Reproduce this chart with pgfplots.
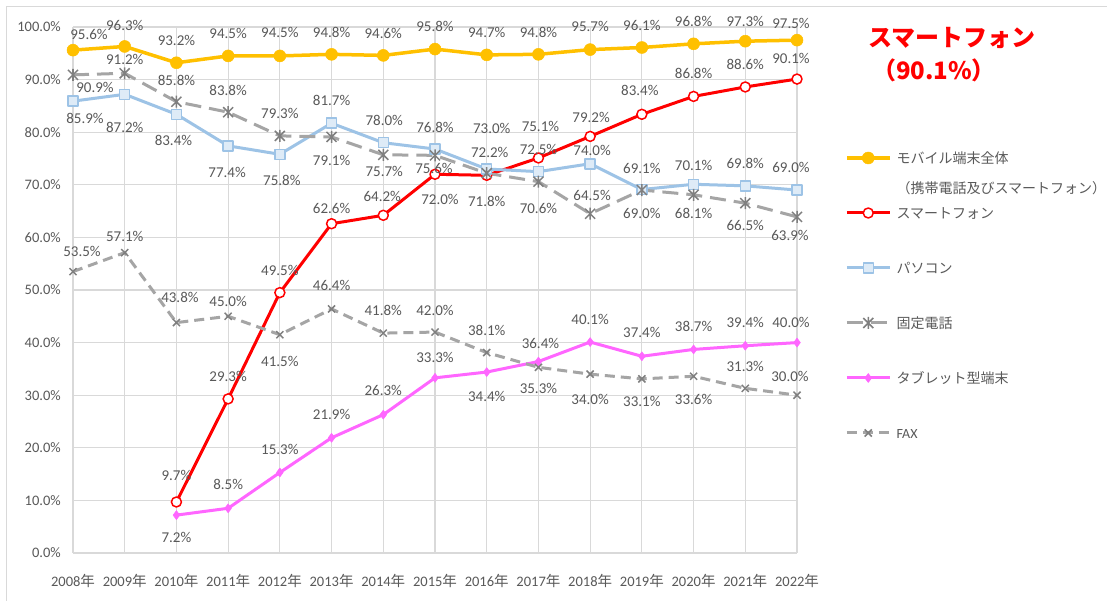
\documentclass[border=0pt]{standalone}
\usepackage{fontspec}
\setmainfont{Carlito}
\newfontfamily\cjk{Noto Sans CJK JP}
\usepackage{pgfplots}
\pgfplotsset{compat=1.18}
\definecolor{mob}{HTML}{FFC000}
\definecolor{smp}{HTML}{FF0000}
\definecolor{pcl}{HTML}{9DC3E6}
\definecolor{pcf}{HTML}{DEEBF7}
\definecolor{tel}{HTML}{A5A5A5}
\definecolor{telm}{HTML}{7F7F7F}
\definecolor{tab}{HTML}{FF66FF}
\definecolor{gridc}{HTML}{D9D9D9}
\definecolor{txt}{HTML}{595959}
\pgfdeclareplotmark{xstar}{%
  \pgfpathmoveto{\pgfqpoint{-\pgfplotmarksize}{-\pgfplotmarksize}}%
  \pgfpathlineto{\pgfqpoint{\pgfplotmarksize}{\pgfplotmarksize}}%
  \pgfpathmoveto{\pgfqpoint{-\pgfplotmarksize}{\pgfplotmarksize}}%
  \pgfpathlineto{\pgfqpoint{\pgfplotmarksize}{-\pgfplotmarksize}}%
  \pgfpathmoveto{\pgfqpoint{0pt}{-1.2\pgfplotmarksize}}%
  \pgfpathlineto{\pgfqpoint{0pt}{1.2\pgfplotmarksize}}%
  \pgfusepathqstroke}
\begin{document}
\begin{tikzpicture}
\useasboundingbox (0pt,0pt) rectangle (1107pt,601pt);
\fill[white] (0pt,0pt) rectangle (1107pt,601pt);
\draw[gridc, line width=1pt] (6pt,0pt) -- (6pt,594pt) -- (1107pt,594pt);
\begin{axis}[
  scale only axis, width=724pt, height=526pt,
  at={(73pt,48pt)}, anchor=south west,
  xmin=0, xmax=14, ymin=0, ymax=100,
  xtick={0,...,14},
  xticklabels={2008{\cjk 年},2009{\cjk 年},2010{\cjk 年},2011{\cjk 年},2012{\cjk 年},2013{\cjk 年},2014{\cjk 年},2015{\cjk 年},2016{\cjk 年},2017{\cjk 年},2018{\cjk 年},2019{\cjk 年},2020{\cjk 年},2021{\cjk 年},2022{\cjk 年}},
  ytick={0,10,...,100},
  yticklabels={0.0\%,10.0\%,20.0\%,30.0\%,40.0\%,50.0\%,60.0\%,70.0\%,80.0\%,90.0\%,100.0\%},
  grid=major, major grid style={draw=gridc, line width=1.2pt},
  axis line style={draw=none}, major tick length=0pt,
  tick label style={font=\fontsize{14.5}{16}\selectfont, text=txt, inner sep=0pt},
  yticklabel style={anchor=east, xshift=-12pt},
  xticklabel style={anchor=center, yshift=-28pt},
  /pgf/number format/assume math mode=true,
  clip=false,
  visualization depends on={value \thisrow{dx}\as\ldx},
  visualization depends on={value \thisrow{dy}\as\ldy},
  nodes near coords={\pgfmathprintnumber[fixed,fixed zerofill,precision=1]{\pgfplotspointmeta}\%},
  every node near coord/.style={anchor=center, xshift=\ldx pt, yshift=\ldy pt, font=\fontsize{15}{17}\selectfont, text=txt, inner sep=0pt},
  line join=round,
  legend image code/.code={\draw[mark repeat=2,mark phase=2,#1] plot coordinates {(0pt,5.5pt) (21.5pt,5.5pt) (43pt,5.5pt)};},
  legend style={at={(1.0663,0.7633)}, anchor=north west, draw=none, fill=none,
    inner sep=0pt, outer sep=0pt, column sep=5pt, row sep=0pt,
    font=\cjk\fontsize{14}{17}\selectfont, text=txt,
    cells={anchor=base west},
    nodes={inner sep=0pt, text height=12pt, text depth=43pt}},
]
\addplot[color=mob, line width=3.5pt, mark=*, mark size=6pt, mark options={solid, fill=mob, draw=mob, line width=0.5pt}] table {
x y dx dy
0 95.6 16 16
1 96.3 0 21.5
2 93.2 0 22
3 94.5 0 22.6
4 94.5 0 23
5 94.8 0 21.7
6 94.6 0 22
7 95.8 0 23
8 94.7 0 22
9 94.8 0 22
10 95.7 0 23
11 96.1 0 22.5
12 96.8 0 22
13 97.3 0 20
14 97.5 -6 17
};
\addlegendentry{\begin{tabular}[t]{@{}l@{}}モバイル端末全体\\[13pt]（携帯電話及びスマートフォン）\end{tabular}}
\addplot[color=smp, line width=3pt, mark=*, mark size=5pt, mark options={solid, fill=white, draw=smp, line width=1.5pt}] table {
x y dx dy
2 9.7 0 27
3 29.3 0 22
4 49.5 0 22.6
5 62.6 0 15
6 64.2 -1 18.6
7 72.0 5 -25
8 71.8 0 -26
9 75.1 2 32
10 79.2 1 19
11 83.4 -2 23.6
12 86.8 0 23
13 88.6 0 22.6
14 90.1 -6 21
};
\addlegendentry{スマートフォン}
\addplot[color=pcl, line width=3pt, mark=square*, mark size=5pt, mark options={solid, fill=pcf, draw=pcl, line width=1.5pt}] table {
x y dx dy
0 85.9 12 -17
1 87.2 0 -33
2 83.4 -3 -26
3 77.4 -1 -27
4 75.8 2 -26
5 81.7 0 23
6 78.0 1 22.7
7 76.8 0 22
8 73.0 5 40.7
9 72.5 0 22.4
10 74.0 2 13
11 69.1 0 21
12 70.1 0 18.6
13 69.8 0 22.6
14 69.0 -6 22.8
};
\addlegendentry{パソコン}
\addplot[color=tel, line width=3pt, dash pattern=on 16pt off 8pt, mark=xstar, mark size=5pt, mark options={solid, draw=telm, line width=1.5pt}] table {
x y dx dy
0 90.9 22 -12.8
1 91.2 0 14
2 85.8 0 21.7
3 83.8 0 22
4 79.3 0 22
5 79.1 0 -23.8
6 75.7 1 -17
7 75.6 -1 -13
8 72.2 3 20.5
9 70.6 0 -26.7
10 64.5 2 18.7
11 69.0 0 -23
12 68.1 0 -18.5
13 66.5 0 -22.5
14 63.9 -7 -19
};
\addlegendentry{固定電話}
\addplot[color=tab, line width=3pt, mark=diamond*, mark size=4.5pt, mark options={solid, fill=tab, draw=tab, line width=0.5pt}] table {
x y dx dy
2 7.2 0 -22
3 8.5 0 24
4 15.3 0 23.5
5 21.9 0 23.8
6 26.3 0 24
7 33.3 0 20.5
8 34.4 0 -24
9 36.4 2 18.2
10 40.1 0 22.8
11 37.4 0 23.6
12 38.7 0 23.4
13 39.4 0 23.8
14 40.0 -6 20
};
\addlegendentry{タブレット型端末}
\addplot[color=tel, line width=3pt, dash pattern=on 10pt off 6pt, mark=x, mark size=5pt, mark options={solid, draw=telm, line width=1.5pt}] table {
x y dx dy
0 53.5 9 20
1 57.1 0 16.7
2 43.8 3.5 25
3 45.0 0 14.6
4 41.5 0 -27
5 46.4 0 23
6 41.8 0 22.4
7 42.0 0 22
8 38.1 0 22
9 35.3 0 -21
10 34.0 0 -25
11 33.1 0 -22.8
12 33.6 0 -22.7
13 31.3 0 22.4
14 30.0 -7 18.5
};
\addlegendentry{{\rmfamily FAX}}
\end{axis}
\node[text=smp, font=\cjk\bfseries\fontsize{24}{28}\selectfont, inner sep=0pt] at (952pt,563pt) {スマートフォン};
\node[text=smp, font=\cjk\bfseries\fontsize{24}{28}\selectfont, inner sep=0pt] at (934pt,531pt) {（90.1\%）};
\end{tikzpicture}
\end{document}
